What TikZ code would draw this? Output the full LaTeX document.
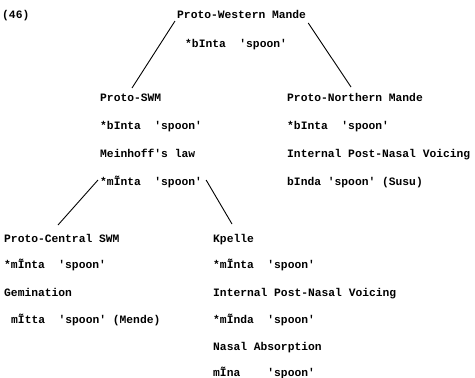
\documentclass[tikz,border=0pt]{standalone}
\usepackage{fontspec}
\setmonofont{Liberation Mono}
\begin{document}
\begin{tikzpicture}[x=1pt,y=-1pt,
  txt/.style={anchor=base west,inner sep=0pt,font=\ttfamily\bfseries\fontsize{11.3}{13}\selectfont},
  link/.style={line width=0.9pt,black}]
\useasboundingbox (0,0) rectangle (475,378);
\node[txt] (n46) at (2,18) {(46)};
\node[txt] (pwm) at (177,18) {Proto-Western Mande};
\node[txt] (pwmf) at (185,47) {*bInta~~'spoon'};
\node[txt] (pswm) at (100,101) {Proto-SWM};
\node[txt] (pswmf) at (100,129) {*bInta~~'spoon'};
\node[txt] (mein) at (100,157) {Meinhoff's law};
\node[txt] (msw) at (100,185) {*mĨnta~~'spoon'};
\node[txt] (pnm) at (287,101) {Proto-Northern Mande};
\node[txt] (pnmf) at (287,129) {*bInta~~'spoon'};
\node[txt] (ipnv1) at (287,157) {Internal Post-Nasal Voicing};
\node[txt] (susu) at (287,185) {bInda~'spoon'~(Susu)};
\node[txt] (pcs) at (4,242) {Proto-Central SWM};
\node[txt] (pcsf) at (4,268) {*mĨnta~~'spoon'};
\node[txt] (gem) at (4,296) {Gemination};
\node[txt] (mende) at (11,323) {mĨtta~~'spoon'~(Mende)};
\node[txt] (kp) at (213,242) {Kpelle};
\node[txt] (kpf1) at (213,268) {*mĨnta~~'spoon'};
\node[txt] (ipnv2) at (213,296) {Internal Post-Nasal Voicing};
\node[txt] (kpf2) at (213,323) {*mĨnda~~'spoon'};
\node[txt] (nas) at (213,350) {Nasal Absorption};
\node[txt] (kpf3) at (213,376) {mĨna~~~~'spoon'};
\draw[link] ([shift={(-2,3)}]pwm.base west) -- ([shift={(32,-13)}]pswm.base west);
\draw[link] ([shift={(2,5)}]pwm.base east) -- ([shift={(64,-14)}]pnm.base west);
\draw[link] ([shift={(-2,-5)}]msw.base west) -- ([shift={(54,-17)}]pcs.base west);
\draw[link] ([shift={(4,-5)}]msw.base east) -- ([shift={(19,-18)}]kp.base west);
\end{tikzpicture}
\end{document}
